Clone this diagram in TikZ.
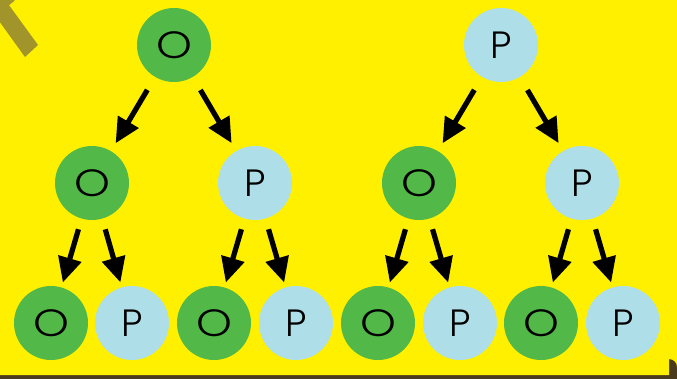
\documentclass[tikz,border=0pt]{standalone}
\usepackage{fontspec}
\setmainfont{Poppins}[UprightFont=* Light]
\usetikzlibrary{arrows.meta}
\definecolor{bgyellow}{HTML}{FFF000}
\definecolor{leafgreen}{HTML}{52B848}
\definecolor{paleblue}{HTML}{AEDEE8}
\definecolor{olive}{HTML}{A0942A}
\definecolor{edgebrown}{HTML}{4A3A1E}
\newcommand{\wideo}{\scalebox{1.2}[1]{O}}
\tikzset{
  ball/.style={circle, minimum size=74pt, inner sep=0pt, font=\fontsize{38}{38}\selectfont},
  gball/.style={ball, fill=leafgreen},
  bball/.style={ball, fill=paleblue},
  link/.style={line width=5.2pt, -{Triangle[length=25pt,width=23pt]}},
  upper/.style={link, shorten <=15pt, shorten >=9pt},
  lower/.style={link, shorten <=11pt, shorten >=5pt}
}
\begin{document}
\begin{tikzpicture}[x=1pt,y=-1pt]
% page frame
\fill[edgebrown] (0,0) rectangle (677,379);
\fill[bgyellow] (0,0) -- (677,0) -- (677,367) arc[start angle=0,end angle=90,radius=8pt] -- (669,375) -- (0,375) -- cycle;
\useasboundingbox (0,0) rectangle (677,379);
% corner icon
\begin{scope}
  \clip (0,0) rectangle (60,60);
  \fill[olive] (-2,-14) circle[radius=22pt];
  \fill[olive] (-6,14) -- (6,1) -- (38,45) -- (25,57) -- cycle;
\end{scope}
% root level
\node[gball] (r1) at (174,45) {\wideo};
\node[bball] (r2) at (501,45) {P};
% middle level
\node[gball] (a1) at (92,183) {\wideo};
\node[bball] (a2) at (255,183) {P};
\node[gball] (a3) at (419,183) {\wideo};
\node[bball] (a4) at (582,183) {P};
% leaf level
\node[gball] (b1) at (51,323) {\wideo};
\node[bball] (b2) at (132,323) {P};
\node[gball] (b3) at (214,323) {\wideo};
\node[bball] (b4) at (296,323) {P};
\node[gball] (b5) at (378,323) {\wideo};
\node[bball] (b6) at (460,323) {P};
\node[gball] (b7) at (541,323) {\wideo};
\node[bball] (b8) at (623,323) {P};
% arrows
\draw[upper] (r1) -- (a1);
\draw[upper] (r1) -- (a2);
\draw[upper] (r2) -- (a3);
\draw[upper] (r2) -- (a4);
\draw[lower] (a1) -- (b1);
\draw[lower] (a1) -- (b2);
\draw[lower] (a2) -- (b3);
\draw[lower] (a2) -- (b4);
\draw[lower] (a3) -- (b5);
\draw[lower] (a3) -- (b6);
\draw[lower] (a4) -- (b7);
\draw[lower] (a4) -- (b8);
\end{tikzpicture}
\end{document}
